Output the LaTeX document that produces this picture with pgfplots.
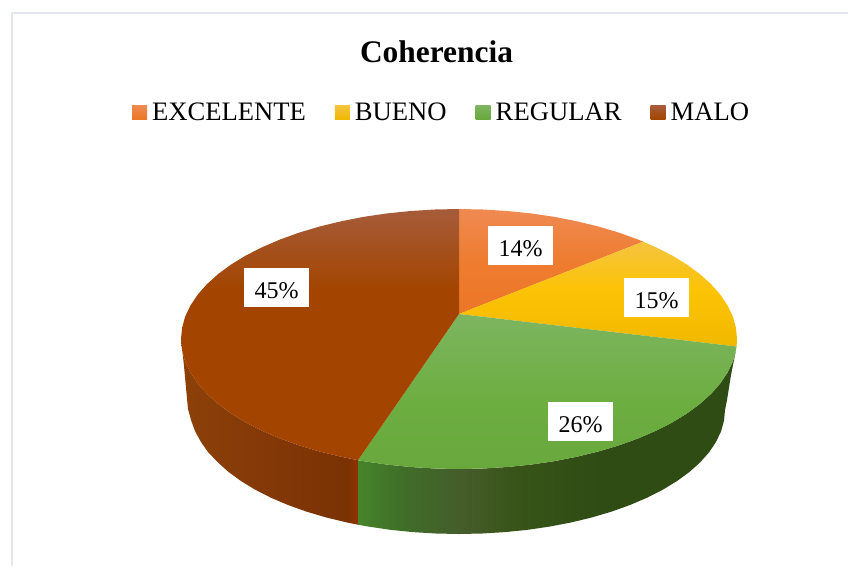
\documentclass[border=0pt]{standalone}
\usepackage{pgfplots}
\pgfplotsset{compat=1.18}
\usepackage{fontspec}
\setmainfont{Liberation Serif}
\definecolor{frameC}{HTML}{E3E6EE}
\definecolor{o1}{HTML}{EF8A52}\definecolor{o2}{HTML}{EE7C30}\definecolor{o3}{HTML}{EC7626}
\definecolor{y1}{HTML}{F4C440}\definecolor{y2}{HTML}{FDC305}\definecolor{y3}{HTML}{F0B800}
\definecolor{g1}{HTML}{7DB560}\definecolor{g2}{HTML}{6DAE41}\definecolor{g3}{HTML}{68A83C}
\definecolor{b1}{HTML}{A65C3A}\definecolor{b2}{HTML}{A34500}
\definecolor{sb1}{HTML}{8C4108}\definecolor{sb2}{HTML}{843808}\definecolor{sb3}{HTML}{7A3204}\definecolor{sb4}{HTML}{8A3200}
\definecolor{sg1}{HTML}{46842A}\definecolor{sg2}{HTML}{3F6E28}\definecolor{sg3}{HTML}{455C2B}\definecolor{sg4}{HTML}{385418}\definecolor{sg5}{HTML}{2E4C14}
\pgfdeclareverticalshading{orangeTop}{100bp}{color(0bp)=(o3);color(25bp)=(o3);color(50bp)=(o2);color(75bp)=(o1);color(100bp)=(o1)}
\pgfdeclareverticalshading{yellowTop}{100bp}{color(0bp)=(y3);color(25bp)=(y3);color(52bp)=(y2);color(75bp)=(y1);color(100bp)=(y1)}
\pgfdeclareverticalshading{greenTop}{100bp}{color(0bp)=(g3);color(25bp)=(g3);color(47bp)=(g2);color(75bp)=(g1);color(100bp)=(g1)}
\pgfdeclareverticalshading{brownTop}{100bp}{color(0bp)=(b2);color(59bp)=(b2);color(75bp)=(b1);color(100bp)=(b1)}
\pgfdeclarehorizontalshading{brownSide}{100bp}{color(0bp)=(sb1);color(25bp)=(sb1);color(50bp)=(sb2);color(72bp)=(sb3);color(74bp)=(sb4);color(100bp)=(sb4)}
\pgfdeclarehorizontalshading{greenSide}{100bp}{color(0bp)=(sg1);color(25bp)=(sg1);color(31bp)=(sg2);color(39bp)=(sg3);color(46bp)=(sg4);color(57bp)=(sg5);color(100bp)=(sg5)}
\begin{document}
\begin{tikzpicture}
\useasboundingbox (0,0) rectangle (848pt,566pt);
\begin{axis}[
  at={(0,0)},anchor=south west,
  width=848pt,height=566pt,scale only axis,hide axis,
  xmin=0,xmax=848,ymin=0,ymax=566,y dir=reverse,clip=false,
  legend style={at={(axis cs:132,112)},anchor=west,draw=none,fill=none,inner sep=0pt,outer sep=0pt,
    legend columns=4,font=\fontsize{26.65}{28}\selectfont,
    nodes={inner sep=0pt,outer sep=0pt},
    /tikz/every even column/.append style={column sep=29pt},
    /tikz/every odd column/.append style={column sep=5pt}},
]
% frame
\addplot[frameC,line width=1.2pt,forget plot] coordinates {(12,566)(12,13)(848,13)};
% side walls
\addplot[draw=none,shading=brownSide,forget plot] coordinates {
(181,339)(182.1,350.3)(185.2,361.6)(190.5,372.6)(197.8,383.5)(207,393.9)(218.2,404)(231.3,413.6)(246,422.6)(262.4,430.9)(280.3,438.6)(299.5,445.5)(320,451.6)(341.5,456.8)(358,460.2)
(358,524.7)(346.6,522.4)(326,517.4)(306.4,511.6)(288,505)(270.9,497.7)(255.2,489.7)(241.1,481.1)(228.6,472)(217.9,462.4)(208,452)(201,442)(195,431)(191,420)(188,409)(186,388)(184,366)} -- cycle;
\addplot[draw=none,shading=greenSide,forget plot] coordinates {
(358,460.2)(363.9,461.2)(387.1,464.6)(410.7,467)(434.8,468.5)(459,469)(483.2,468.5)(507.3,467)(530.9,464.6)(554.1,461.2)(576.5,456.8)(598,451.6)(618.5,445.5)(637.7,438.6)(655.6,430.9)(672,422.6)(686.7,413.6)(699.8,404)(711,393.9)(720.2,383.5)(727.5,372.6)(732.8,361.6)(735.9,350.3)(736.6,346.5)
(734,360)(731,375)(727,400)(725,410)(724,420.8)(721,431.5)(715.9,442.1)(709,452.4)(700.1,462.4)(689.4,472)(676.9,481.1)(662.8,489.7)(647.1,497.7)(630,505)(611.6,511.6)(592,517.4)(571.4,522.4)(550,526.5)(527.8,529.8)(505.2,532.1)(482.2,533.5)(459,534)(435.8,533.5)(412.8,532.1)(390.2,529.8)(368,526.5)(358,524.7)} -- cycle;
% top surface
\addplot[draw=none,shading=orangeTop,legend image code/.code={\path[top color=o1,bottom color=o3] (0pt,-7.5pt) rectangle (15pt,7pt);}] coordinates {
(459,314)(459,209)(483.2,209.5)(507.3,211)(530.9,213.4)(554.1,216.8)(576.5,221.2)(598,226.4)(618.5,232.5)(637.7,239.4)(643.2,241.6)} -- cycle;
\addlegendentry{EXCELENTE}
\addplot[draw=none,shading=yellowTop,legend image code/.code={\path[top color=y1,bottom color=y3] (0pt,-7.5pt) rectangle (15pt,7pt);}] coordinates {
(459,314)(643.2,241.6)(655.6,247.1)(672,255.4)(686.7,264.4)(699.8,274)(711,284.1)(720.2,294.5)(727.5,305.4)(732.8,316.4)(735.9,327.7)(737,339)(736.6,346.5)} -- cycle;
\addlegendentry{BUENO}
\addplot[draw=none,shading=greenTop,legend image code/.code={\path[top color=g1,bottom color=g3] (0pt,-7.5pt) rectangle (15pt,7pt);}] coordinates {
(459,314)(736.6,346.5)(735.9,350.3)(732.8,361.6)(727.5,372.6)(720.2,383.5)(711,393.9)(699.8,404)(686.7,413.6)(672,422.6)(655.6,430.9)(637.7,438.6)(618.5,445.5)(598,451.6)(576.5,456.8)(554.1,461.2)(530.9,464.6)(507.3,467)(483.2,468.5)(459,469)(434.8,468.5)(410.7,467)(387.1,464.6)(363.9,461.2)(358,460.2)} -- cycle;
\addlegendentry{REGULAR}
\addplot[draw=none,shading=brownTop,legend image code/.code={\path[top color=b1,bottom color=b2] (0pt,-7.5pt) rectangle (15pt,7pt);}] coordinates {
(459,314)(358,460.2)(341.5,456.8)(320,451.6)(299.5,445.5)(280.3,438.6)(262.4,430.9)(246,422.6)(231.3,413.6)(218.2,404)(207,393.9)(197.8,383.5)(190.5,372.6)(185.2,361.6)(182.1,350.3)(181,339)(182.1,327.7)(185.2,316.4)(190.5,305.4)(197.8,294.5)(207,284.1)(218.2,274)(231.3,264.4)(246,255.4)(262.4,247.1)(280.3,239.4)(299.5,232.5)(320,226.4)(341.5,221.2)(363.9,216.8)(387.1,213.4)(410.7,211)(434.8,209.5)(459,209)} -- cycle;
\addlegendentry{MALO}
% labels
\tikzset{lab/.style={fill=white,inner sep=0pt,minimum width=65pt,minimum height=39pt,text height=21pt,text depth=0pt,font=\fontsize{24}{24}\selectfont}}
\node[lab] at (axis cs:520.5,245.5) {14\%};
\node[lab] at (axis cs:656.5,297.5) {15\%};
\node[lab] at (axis cs:580.5,421.5) {26\%};
\node[lab] at (axis cs:276.5,287.5) {45\%};
\node[anchor=base,inner sep=0pt,font=\fontsize{31.4}{32}\selectfont\bfseries] at (axis cs:436.5,62) {Coherencia};
\end{axis}
\end{tikzpicture}
\end{document}
